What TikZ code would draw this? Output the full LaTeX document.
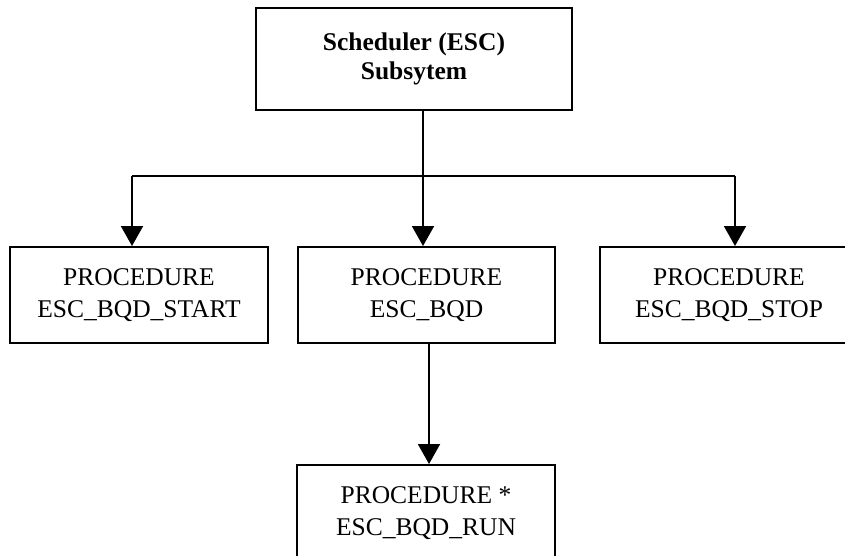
\documentclass[tikz,border=0pt]{standalone}
\usepackage{fontspec}
\setmainfont{Liberation Serif}
\usetikzlibrary{arrows.meta}

\begin{document}
\begin{tikzpicture}[x=1pt, y=-1pt,
  box/.style={draw, line width=2pt, align=center, inner sep=0pt,
    minimum width=258pt, minimum height=96pt,
    font=\fontsize{25.5}{32}\selectfont},
  headbox/.style={draw, line width=2pt, align=center, inner sep=0pt,
    minimum width=316pt, minimum height=102pt,
    font=\fontsize{25.5}{29}\selectfont\bfseries},
  link/.style={line width=2pt},
  arrowlink/.style={line width=2pt, -{Triangle[width=22pt,length=20pt]}}]

  \useasboundingbox (0,0) rectangle (845,556);
  \clip (0,0) rectangle (845,556);
  \fill[white] (0,0) rectangle (845,556);

  % subsystem and its procedures
  \node[headbox] (esc) at (414,59) {Scheduler (ESC)\\Subsytem};
  \node[box] (start) at (139,295) {PROCEDURE\\ESC\_BQD\_START};
  \node[box, minimum width=257pt] (bqd) at (426.5,295) {PROCEDURE\\ESC\_BQD};
  \node[box] (stop) at (729,295) {PROCEDURE\\ESC\_BQD\_STOP};
  \node[box] (run) at (426,513) {PROCEDURE *\\ESC\_BQD\_RUN};

  % distribution bus below the subsystem
  \coordinate (busL) at (132,176);
  \coordinate (busM) at (423,176);
  \coordinate (busR) at (735,176);
  \coordinate (runX) at (429,400);

  \draw[link] (esc.south -| busM) -- (busM);
  \draw[link] (busL) -- (busR);
  \draw[arrowlink] (busL) -- (start.north -| busL);
  \draw[arrowlink] (busM) -- (bqd.north -| busM);
  \draw[arrowlink] (busR) -- (stop.north -| busR);
  \draw[arrowlink] (bqd.south -| runX) -- (run.north -| runX);
\end{tikzpicture}
\end{document}
